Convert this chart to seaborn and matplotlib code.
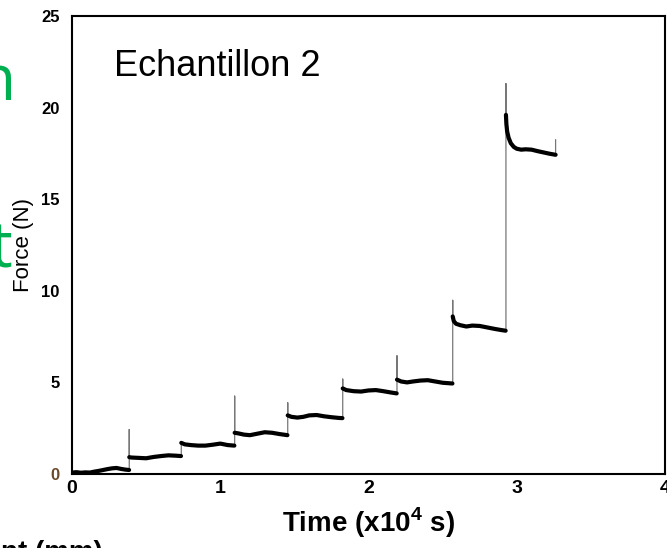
import matplotlib
matplotlib.use('Agg')
import matplotlib.pyplot as plt
import pandas as pd
import seaborn as sns
from matplotlib.ticker import MultipleLocator

# Creep steps: time in x10^4 s, force in N
plateau_time = [
    [0.0, 0.03, 0.06, 0.09, 0.12, 0.15, 0.18, 0.21, 0.24, 0.27, 0.30, 0.33, 0.36, 0.385],
    [0.386, 0.40, 0.45, 0.50, 0.55, 0.60, 0.65, 0.70, 0.735],
    [0.737, 0.76, 0.80, 0.85, 0.90, 0.95, 1.00, 1.05, 1.095],
    [1.097, 1.12, 1.16, 1.20, 1.25, 1.30, 1.35, 1.40, 1.453],
    [1.455, 1.48, 1.52, 1.56, 1.60, 1.65, 1.70, 1.75, 1.80, 1.824],
    [1.826, 1.85, 1.90, 1.95, 2.00, 2.05, 2.10, 2.15, 2.19],
    [2.192, 2.22, 2.26, 2.30, 2.35, 2.40, 2.45, 2.50, 2.566],
    [2.568, 2.575, 2.59, 2.62, 2.66, 2.70, 2.75, 2.80, 2.85, 2.90, 2.925],
    [2.927, 2.93, 2.935, 2.945, 2.96, 2.98, 3.00, 3.03, 3.06, 3.10, 3.14, 3.18, 3.22, 3.262],
]
plateau_force = [
    [0.08, 0.10, 0.07, 0.09, 0.08, 0.13, 0.17, 0.22, 0.27, 0.31, 0.33, 0.28, 0.24, 0.22],
    [0.92, 0.90, 0.88, 0.86, 0.93, 0.98, 1.02, 1.00, 0.98],
    [1.70, 1.62, 1.58, 1.55, 1.55, 1.60, 1.66, 1.58, 1.55],
    [2.25, 2.22, 2.15, 2.12, 2.20, 2.28, 2.25, 2.18, 2.12],
    [3.20, 3.12, 3.08, 3.12, 3.20, 3.22, 3.15, 3.10, 3.06, 3.05],
    [4.67, 4.58, 4.52, 4.50, 4.56, 4.58, 4.52, 4.45, 4.40],
    [5.15, 5.05, 5.00, 5.05, 5.10, 5.12, 5.05, 4.98, 4.94],
    [8.60, 8.35, 8.20, 8.12, 8.05, 8.10, 8.08, 8.00, 7.92, 7.85, 7.82],
    [19.6, 19.1, 18.7, 18.35, 18.05, 17.85, 17.75, 17.70, 17.72, 17.70, 17.62, 17.55, 17.48, 17.42],
]
# overshoot at each load step (None for the first, unloaded segment)
spike_force = [None, 2.43, 1.75, 4.25, 3.89, 5.18, 6.45, 9.48, 21.3]
end_spike_force = 18.25

x_ticks = [0, 1, 2, 3, 4]
y_ticks = [0, 5, 10, 15, 20, 25]

sns.set_style('white')
plt.rcParams['font.family'] = ['Liberation Sans', 'DejaVu Sans']
plt.rcParams['mathtext.fontset'] = 'custom'
plt.rcParams['mathtext.rm'] = 'Liberation Sans'
plt.rcParams['mathtext.bf'] = 'Liberation Sans:bold'
for key in ['text.color', 'axes.labelcolor', 'xtick.color', 'ytick.color']:
    plt.rcParams[key] = 'black'

# full raw trace (thin) + plateau segments (thick, noisy looking)
trace_t, trace_f, rows = [], [], []
for k, (ts, fs) in enumerate(zip(plateau_time, plateau_force)):
    if spike_force[k] is not None:
        trace_t += [ts[0], ts[0]]
        trace_f += [trace_f[-1], spike_force[k]]
    trace_t += ts
    trace_f += fs
    rows += [(k, t, f) for t, f in zip(ts, fs)]
trace_t.append(plateau_time[-1][-1])
trace_f.append(end_spike_force)

trace = pd.DataFrame({'time': trace_t, 'force': trace_f})
plateaus = pd.DataFrame(rows, columns=['step', 'time', 'force'])

fig = plt.figure(figsize=(6.67, 5.48), dpi=100)
ax = fig.add_axes([0.108, 0.135, 0.889, 0.836])

sns.lineplot(data=trace, x='time', y='force', sort=False, estimator=None,
             color='#777777', linewidth=0.9, ax=ax)
sns.lineplot(data=plateaus, x='time', y='force', units='step', estimator=None,
             sort=False, color='black', linewidth=3.0, ax=ax, legend=False)

ax.set_xlim(0, 4)
ax.set_ylim(0, 25)
ax.set_xticks(x_ticks)
ax.set_yticks(y_ticks)
ax.yaxis.set_minor_locator(MultipleLocator(2.5))
ax.tick_params(axis='x', which='major', direction='in', length=7, width=1.5,
               labelsize=14, pad=4, top=False)
ax.tick_params(axis='y', which='major', direction='in', length=7, width=1.5,
               labelsize=12, pad=9, right=False)
ax.tick_params(axis='y', which='minor', direction='in', length=4, width=1.2, right=False)
for lbl in ax.get_xticklabels() + ax.get_yticklabels():
    lbl.set_fontweight('bold')
ax.get_yticklabels()[0].set_color('#6b4a2a')

for sp in ax.spines.values():
    sp.set_color('black')
    sp.set_linewidth(1.5)

ax.set_xlabel('Time (x10$^{\\mathbf{4}}$ s)', fontsize=20, fontweight='bold')
ax.xaxis.set_label_coords(0.5, -0.068)
ax.set_ylabel('Force (N)', fontsize=16)
ax.yaxis.set_label_coords(-0.064, 0.5)

ax.text(114 / 667, 1 - 76 / 548, 'Echantillon 2', transform=fig.transFigure,
        fontsize=26, va='baseline')

# pieces of the slide text that sits behind the chart
fig.text(16 / 667, 1 - 100 / 548, 'n', ha='right', va='baseline',
         color='#00B050', fontsize=46, family='Open Sans')
fig.text(13 / 667, 1 - 267 / 548, 't', ha='right', va='baseline',
         color='#00B050', fontsize=46, family='Open Sans')
fig.text(103 / 667, 1 - 540 / 548, 'nt (mm)', ha='right', va='top',
         fontsize=20, fontweight='bold')

fig.savefig('out.png', dpi=100)
